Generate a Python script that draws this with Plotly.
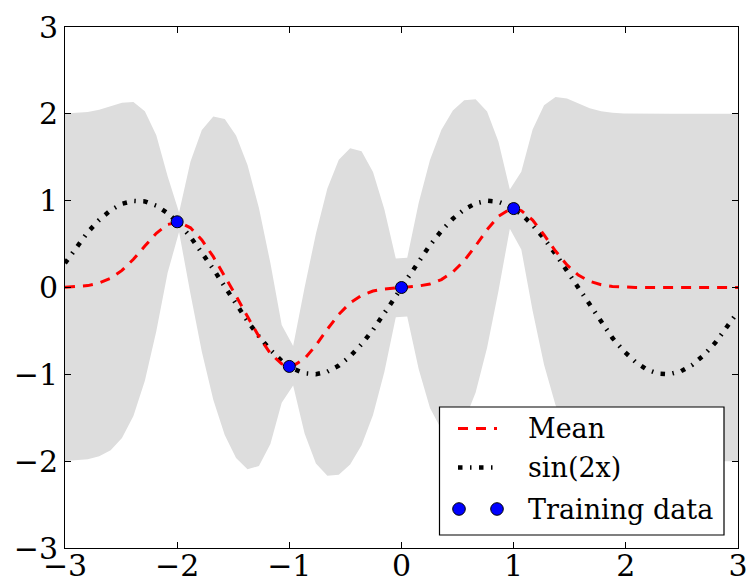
import plotly.graph_objects as go

# Prediction grid
x_grid = [-3.000, -2.898, -2.797, -2.695, -2.593, -2.492, -2.390, -2.288, -2.186, -2.085,
          -1.983, -1.881, -1.780, -1.678, -1.576, -1.475, -1.373, -1.271, -1.169, -1.068,
          -0.966, -0.864, -0.763, -0.661, -0.559, -0.458, -0.356, -0.254, -0.153, -0.051,
          0.051, 0.153, 0.254, 0.356, 0.458, 0.559, 0.661, 0.763, 0.864, 0.966,
          1.068, 1.169, 1.271, 1.373, 1.475, 1.576, 1.678, 1.780, 1.881, 1.983,
          2.085, 2.186, 2.288, 2.390, 2.492, 2.593, 2.695, 2.797, 2.898, 3.000]

# Predictive mean
mean_vals = [0.003, 0.009, 0.022, 0.052, 0.107, 0.197, 0.325, 0.477, 0.625, 0.726,
             0.751, 0.687, 0.547, 0.355, 0.135, -0.096, -0.335, -0.565, -0.760, -0.880,
             -0.902, -0.820, -0.666, -0.480, -0.309, -0.178, -0.091, -0.041, -0.017, -0.004,
             0.004, 0.017, 0.041, 0.091, 0.178, 0.309, 0.480, 0.666, 0.820, 0.903,
             0.886, 0.776, 0.605, 0.420, 0.260, 0.144, 0.071, 0.031, 0.012, 0.004,
             0.001, 0.000, 0.000, 0.000, 0.000, 0.000, 0.000, 0.000, 0.000, 0.000]

# Upper / lower edge of the confidence band
upper_vals = [2.003, 2.009, 2.021, 2.047, 2.087, 2.128, 2.135, 2.029, 1.754, 1.281,
              0.864, 1.450, 1.815, 1.970, 1.940, 1.750, 1.410, 0.915, 0.282, -0.433,
              -0.675, 0.000, 0.620, 1.140, 1.470, 1.605, 1.570, 1.330, 0.900, 0.334,
              0.342, 0.973, 1.469, 1.818, 2.037, 2.157, 2.169, 2.026, 1.682, 1.130,
              1.334, 1.819, 2.098, 2.194, 2.176, 2.119, 2.065, 2.030, 2.012, 2.004,
              2.001, 2.000, 2.000, 2.000, 2.000, 2.000, 2.000, 2.000, 2.000, 2.000]

lower_vals = [-1.997, -1.991, -1.977, -1.943, -1.873, -1.734, -1.481, -1.075, -0.505, 0.171,
              0.638, -0.075, -0.741, -1.292, -1.698, -1.963, -2.094, -2.055, -1.802, -1.328,
              -1.128, -1.682, -2.026, -2.169, -2.157, -2.037, -1.818, -1.469, -0.973, -0.342,
              -0.334, -0.940, -1.387, -1.636, -1.682, -1.539, -1.209, -0.695, -0.042, 0.677,
              0.439, -0.267, -0.889, -1.354, -1.657, -1.831, -1.923, -1.968, -1.988, -1.996,
              -1.999, -2.000, -2.000, -2.000, -2.000, -2.000, -2.000, -2.000, -2.000, -2.000]

# True function sin(2x) on the grid
sin_vals = [0.279, 0.468, 0.637, 0.779, 0.890, 0.964, 0.998, 0.991, 0.943, 0.856,
            0.734, 0.582, 0.406, 0.213, 0.011, -0.191, -0.386, -0.564, -0.719, -0.845,
            -0.936, -0.988, -0.999, -0.969, -0.899, -0.793, -0.653, -0.487, -0.300, -0.102,
            0.102, 0.300, 0.487, 0.653, 0.793, 0.899, 0.969, 0.999, 0.988, 0.936,
            0.845, 0.719, 0.564, 0.386, 0.191, -0.011, -0.213, -0.406, -0.582, -0.734,
            -0.856, -0.943, -0.991, -0.998, -0.964, -0.890, -0.779, -0.637, -0.468, -0.279]

# Training data
train_x = [-2, -1, 0, 1]
train_y = [0.757, -0.909, 0.000, 0.909]

tick_vals = [-3, -2, -1, 0, 1, 2, 3]
legend_labels = ["Mean", "sin(2x)", "Training data"]

FONT = "DejaVu Serif"
BAND = "#dddddd"
W, H = 751, 588
ML, MR, MT, MB = 65, 13, 27, 40
PW, PH = W - ML - MR, H - MT - MB

MEAN_LINE = dict(color="red", width=3, dash="10px,8px")
SIN_LINE = dict(color="black", width=4.5, dash="4.5px,7.5px,1.5px,7.5px")


def px_x(p):
    return (p - ML) / PW


def px_y(p):
    return (H - MB - p) / PH


fig = go.Figure()

fig.add_trace(go.Scatter(x=x_grid, y=upper_vals, mode="lines", line=dict(width=0, color=BAND),
                         showlegend=False, hoverinfo="skip"))
fig.add_trace(go.Scatter(x=x_grid, y=lower_vals, mode="lines", line=dict(width=0, color=BAND),
                         fill="tonexty", fillcolor=BAND, showlegend=False, hoverinfo="skip"))
fig.add_trace(go.Scatter(x=x_grid, y=sin_vals, mode="lines", name=legend_labels[1],
                         line=SIN_LINE, showlegend=False))
fig.add_trace(go.Scatter(x=x_grid, y=mean_vals, mode="lines", name=legend_labels[0],
                         line=MEAN_LINE, showlegend=False))
fig.add_trace(go.Scatter(x=train_x, y=train_y, mode="markers", name=legend_labels[2],
                         marker=dict(color="blue", size=12, line=dict(color="black", width=1)),
                         showlegend=False))

# ---- legend drawn in the matplotlib style (box, samples, two markers) ----
box_l, box_r, box_t, box_b = 439.5, 724, 407, 535
row_y = [428.5, 467.5, 509]
samp_l, samp_r = 458, 497
text_x = 526
shapes = [dict(type="rect", xref="paper", yref="paper",
               x0=px_x(box_l), x1=px_x(box_r), y0=px_y(box_b), y1=px_y(box_t),
               fillcolor="white", line=dict(color="black", width=1.2), layer="above")]
shapes.append(dict(type="line", xref="paper", yref="paper",
                   x0=px_x(samp_l), x1=px_x(samp_r), y0=px_y(row_y[0]), y1=px_y(row_y[0]),
                   line=MEAN_LINE, layer="above"))
shapes.append(dict(type="line", xref="paper", yref="paper",
                   x0=px_x(samp_l), x1=px_x(samp_r), y0=px_y(row_y[1]), y1=px_y(row_y[1]),
                   line=SIN_LINE, layer="above"))
r = 6.3
for cx in (samp_l + 1, samp_r):
    shapes.append(dict(type="circle", xref="paper", yref="paper",
                       x0=px_x(cx - r), x1=px_x(cx + r), y0=px_y(row_y[2] + r), y1=px_y(row_y[2] - r),
                       fillcolor="blue", line=dict(color="black", width=1), layer="above"))

annotations = []
for lab, yy in zip(legend_labels, row_y):
    annotations.append(dict(text=lab, xref="paper", yref="paper", x=px_x(text_x), y=px_y(yy),
                            xanchor="left", yanchor="middle", showarrow=False,
                            font=dict(family=FONT, size=27, color="black")))

axis_common = dict(
    range=[-3, 3], tickvals=tick_vals, ticks="inside", ticklen=6, tickwidth=1,
    tickcolor="black", showline=True, linecolor="black", linewidth=1, mirror="ticks",
    showgrid=False, zeroline=False, automargin=False,
    tickfont=dict(family=FONT, size=30, color="black"),
)

fig.update_layout(
    width=W, height=H,
    margin=dict(l=ML, r=MR, t=MT, b=MB, autoexpand=False),
    paper_bgcolor="white", plot_bgcolor="white",
    font=dict(family=FONT, size=27, color="black"),
    xaxis=dict(axis_common, ticklabelstandoff=-9),
    yaxis=dict(axis_common),
    showlegend=False,
    shapes=shapes, annotations=annotations,
)

fig.write_html("out.html")
